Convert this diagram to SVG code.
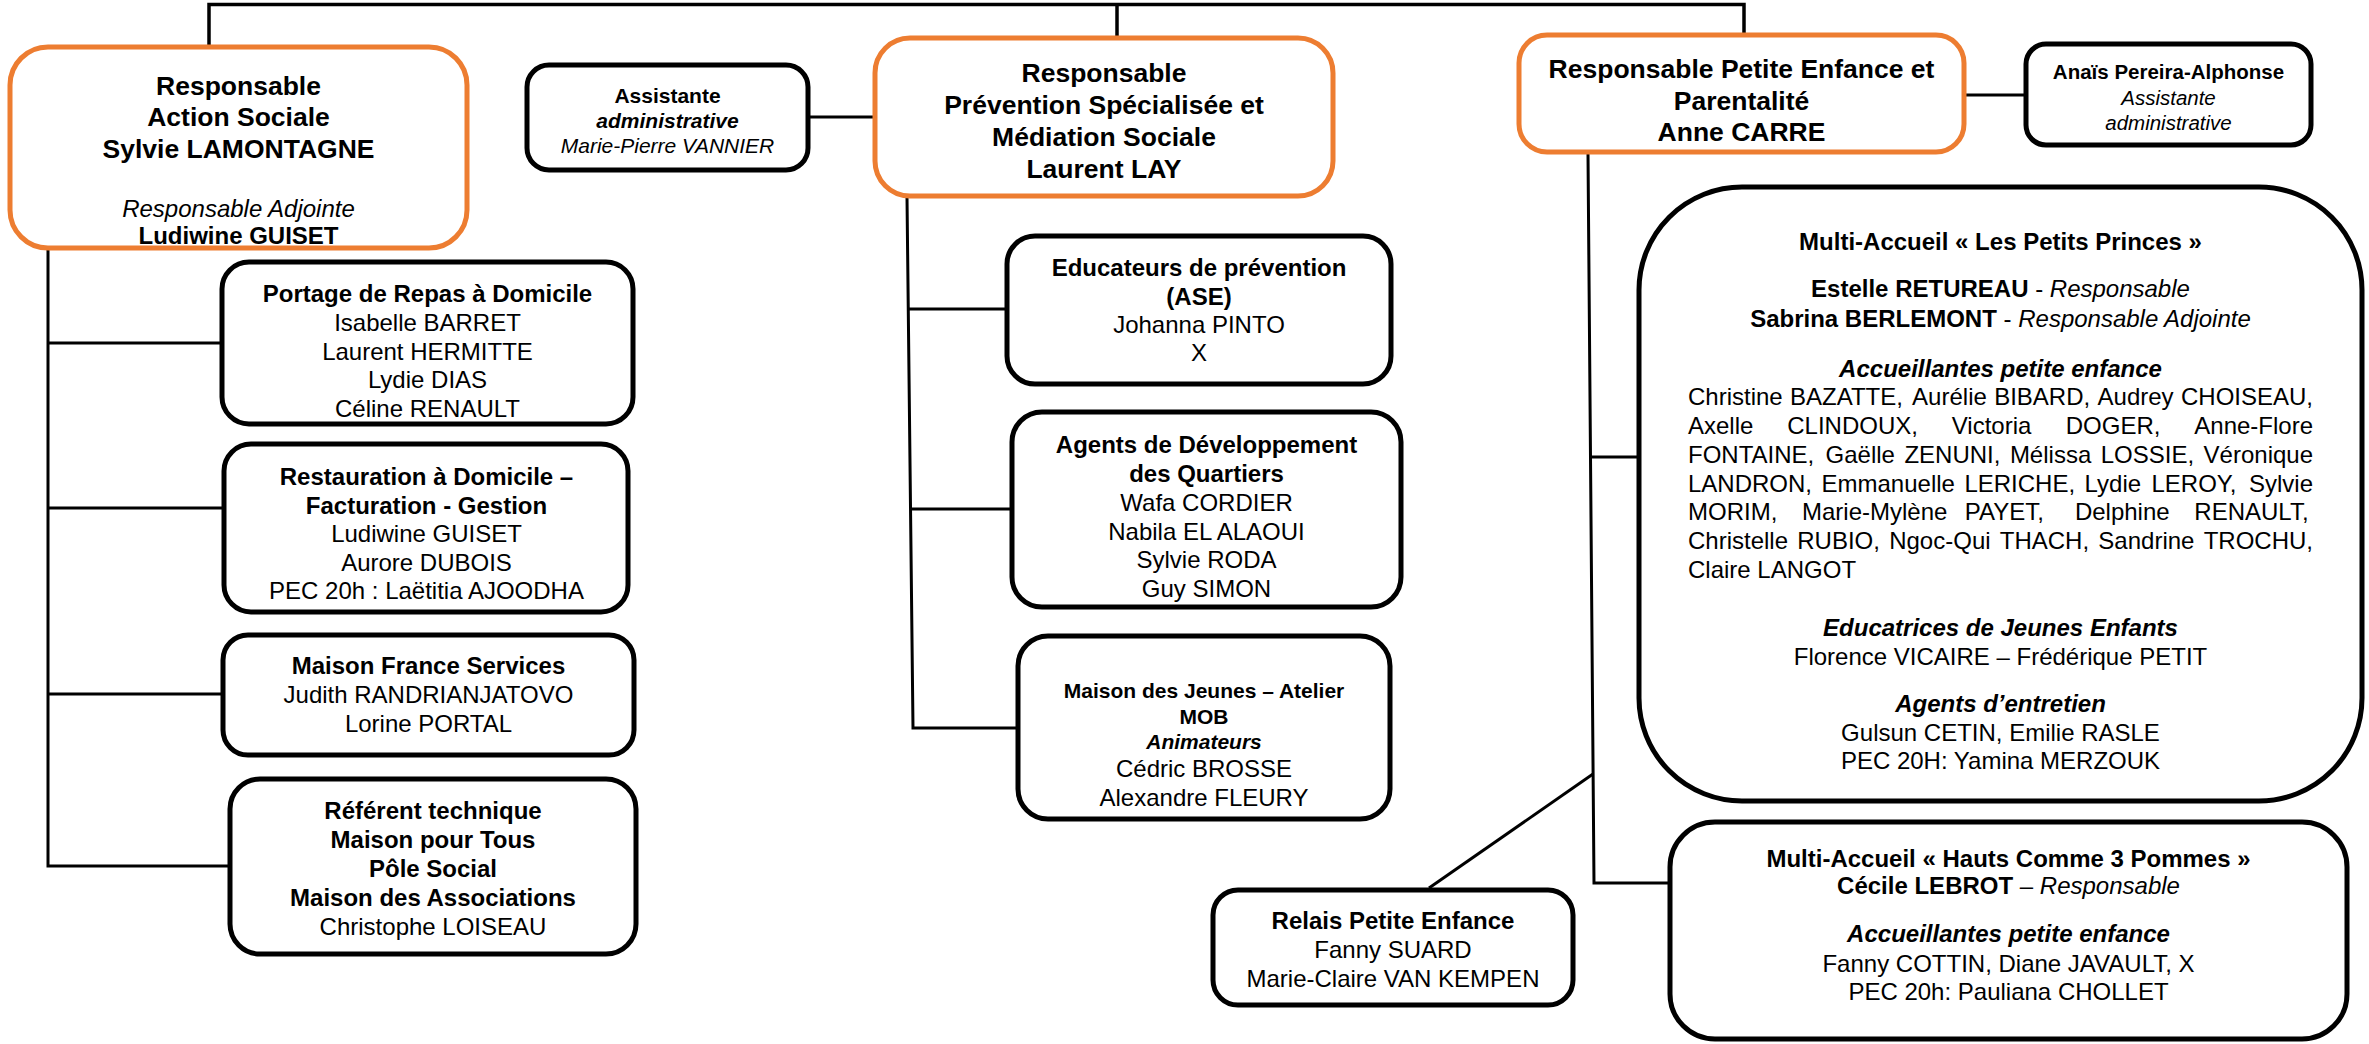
<svg xmlns="http://www.w3.org/2000/svg" width="2369" height="1044" viewBox="0 0 2369 1044">
<style>
text{font-family:"Liberation Sans",Arial,Helvetica,sans-serif;fill:#000;font-size:24px}
.c{text-anchor:middle}
.b{font-weight:bold}
.i{font-style:italic}
.h{font-size:26.5px;font-weight:bold}
.s21{font-size:21px}
.s20{font-size:20.5px}
.box{fill:#fff;stroke:#000;stroke-width:5}
.obox{fill:#fff;stroke:#ED7D31;stroke-width:5}
.ln{fill:none;stroke:#000;stroke-width:3}
</style>
<rect width="2369" height="1044" fill="#fff"/>
<g id="connectors">
<polyline class="ln" style="stroke-width:3.5" points="209,45 209,4.5 1744,4.5 1744,33"/>
<line class="ln" style="stroke-width:3.5" x1="1117" y1="4.5" x2="1117" y2="36"/>
<line class="ln" x1="810" y1="117" x2="873" y2="117"/>
<line class="ln" x1="1966" y1="95" x2="2024" y2="95"/>
<polyline class="ln" points="48,250 48,866 228,866"/>
<line class="ln" x1="48" y1="343" x2="220" y2="343"/>
<line class="ln" x1="48" y1="508" x2="222" y2="508"/>
<line class="ln" x1="48" y1="694" x2="221" y2="694"/>
<polyline class="ln" points="907,197 913,728 1016,728"/>
<line class="ln" x1="908.3" y1="309" x2="1005" y2="309"/>
<line class="ln" x1="910.5" y1="509" x2="1010" y2="509"/>
<polyline class="ln" points="1588,154 1594,883 1668,883"/>
<line class="ln" x1="1590.5" y1="457" x2="1637" y2="457"/>
<line class="ln" x1="1429" y1="888" x2="1593" y2="774"/>
</g>
<g id="action-sociale">
<rect class="obox" x="10" y="47" width="457" height="201" rx="38"/>
<text class="c h" x="238.5" y="94.5">Responsable</text>
<text class="c h" x="238.5" y="126">Action Sociale</text>
<text class="c h" x="238.5" y="157.5">Sylvie LAMONTAGNE</text>
<text class="c i" x="238.5" y="216.5">Responsable Adjointe</text>
<text class="c b" x="238.5" y="243.5">Ludiwine GUISET</text>
</g>
<g id="assistante-vannier">
<rect class="box" x="527" y="65" width="281" height="105" rx="22"/>
<text class="c b s21" x="667.5" y="102.5">Assistante</text>
<text class="c b i s21" x="667.5" y="127.5">administrative</text>
<text class="c i s21" x="667.5" y="153">Marie-Pierre VANNIER</text>
</g>
<g id="prevention">
<rect class="obox" x="875" y="38" width="458" height="158" rx="35"/>
<text class="c h" x="1104" y="82">Responsable</text>
<text class="c h" x="1104" y="114">Prévention Spécialisée et</text>
<text class="c h" x="1104" y="146">Médiation Sociale</text>
<text class="c h" x="1104" y="177.5">Laurent LAY</text>
</g>
<g id="petite-enfance">
<rect class="obox" x="1519" y="35" width="445" height="117" rx="28"/>
<text class="c h" x="1741.5" y="78">Responsable Petite Enfance et</text>
<text class="c h" x="1741.5" y="109.5">Parentalité</text>
<text class="c h" x="1741.5" y="141">Anne CARRE</text>
</g>
<g id="assistante-pereira">
<rect class="box" x="2026" y="44" width="285" height="101" rx="20"/>
<text class="c b s20" x="2168.5" y="79">Anaïs Pereira-Alphonse</text>
<text class="c i s20" x="2168.5" y="105">Assistante</text>
<text class="c i s20" x="2168.5" y="130">administrative</text>
</g>
<g id="portage">
<rect class="box" x="222" y="262" width="411" height="162" rx="27"/>
<text class="c b" x="427.5" y="302">Portage de Repas à Domicile</text>
<text class="c" x="427.5" y="331">Isabelle BARRET</text>
<text class="c" x="427.5" y="360">Laurent HERMITTE</text>
<text class="c" x="427.5" y="388">Lydie DIAS</text>
<text class="c" x="427.5" y="417">Céline RENAULT</text>
</g>
<g id="restauration">
<rect class="box" x="224" y="444" width="404" height="168" rx="27"/>
<text class="c b" x="426.5" y="484.5">Restauration à Domicile –</text>
<text class="c b" x="426.5" y="513.5">Facturation - Gestion</text>
<text class="c" x="426.5" y="542">Ludiwine GUISET</text>
<text class="c" x="426.5" y="571">Aurore DUBOIS</text>
<text class="c" x="426.5" y="599">PEC 20h : Laëtitia AJOODHA</text>
</g>
<g id="france-services">
<rect class="box" x="223" y="635" width="411" height="120" rx="25"/>
<text class="c b" x="428.5" y="673.5">Maison France Services</text>
<text class="c" x="428.5" y="703">Judith RANDRIANJATOVO</text>
<text class="c" x="428.5" y="731.5">Lorine PORTAL</text>
</g>
<g id="referent">
<rect class="box" x="230" y="779" width="406" height="175" rx="30"/>
<text class="c b" x="433" y="819">Référent technique</text>
<text class="c b" x="433" y="848">Maison pour Tous</text>
<text class="c b" x="433" y="877">Pôle Social</text>
<text class="c b" x="433" y="905.5">Maison des Associations</text>
<text class="c" x="433" y="934.5">Christophe LOISEAU</text>
</g>
<g id="educateurs">
<rect class="box" x="1007" y="236" width="384" height="148" rx="28"/>
<text class="c b" x="1199" y="276">Educateurs de prévention</text>
<text class="c b" x="1199" y="304.5">(ASE)</text>
<text class="c" x="1199" y="332.5">Johanna PINTO</text>
<text class="c" x="1199" y="361">X</text>
</g>
<g id="agents-quartiers">
<rect class="box" x="1012" y="412" width="389" height="195" rx="30"/>
<text class="c b" x="1206.5" y="453">Agents de Développement</text>
<text class="c b" x="1206.5" y="481.5">des Quartiers</text>
<text class="c" x="1206.5" y="510.5">Wafa CORDIER</text>
<text class="c" x="1206.5" y="539.5">Nabila EL ALAOUI</text>
<text class="c" x="1206.5" y="568">Sylvie RODA</text>
<text class="c" x="1206.5" y="597">Guy SIMON</text>
</g>
<g id="maison-jeunes">
<rect class="box" x="1018" y="636" width="372" height="183" rx="30"/>
<text class="c b s21" x="1204" y="697.5">Maison des Jeunes – Atelier</text>
<text class="c b s21" x="1204" y="723.5">MOB</text>
<text class="c b i s21" x="1204" y="749">Animateurs</text>
<text class="c" x="1204" y="777">Cédric BROSSE</text>
<text class="c" x="1204" y="805.5">Alexandre FLEURY</text>
</g>
<g id="petits-princes">
<rect class="box" x="1639" y="187" width="723" height="614" rx="103"/>
<text class="c b" x="2000.5" y="250">Multi-Accueil « Les Petits Princes »</text>
<text class="c" x="2000.5" y="297"><tspan class="b">Estelle RETUREAU</tspan> - <tspan class="i">Responsable</tspan></text>
<text class="c" x="2000.5" y="327"><tspan class="b">Sabrina BERLEMONT</tspan> - <tspan class="i">Responsable Adjointe</tspan></text>
<text class="c b i" x="2000.5" y="377">Accueillantes petite enfance</text>
<text y="405"><tspan x="1688">Christine</tspan><tspan x="1790.05">BAZATTE,</tspan><tspan x="1912.12">Aurélie</tspan><tspan x="1994.18">BIBARD,</tspan><tspan x="2097.57">Audrey</tspan><tspan x="2180.97">CHOISEAU,</tspan></text>
<text y="434"><tspan x="1688">Axelle</tspan><tspan x="1787.24">CLINDOUX,</tspan><tspan x="1951.81">Victoria</tspan><tspan x="2065.72">DOGER,</tspan><tspan x="2194.29">Anne-Flore</tspan></text>
<text y="463"><tspan x="1688">FONTAINE,</tspan><tspan x="1825.52">Gaëlle</tspan><tspan x="1904.38">ZENUNI,</tspan><tspan x="2009.88">Mélissa</tspan><tspan x="2100.72">LOSSIE,</tspan><tspan x="2203.6">Véronique</tspan></text>
<text y="491.5"><tspan x="1688">LANDRON,</tspan><tspan x="1821.52">Emmanuelle</tspan><tspan x="1964.4">LERICHE,</tspan><tspan x="2084.6">Lydie</tspan><tspan x="2151.47">LEROY,</tspan><tspan x="2249.01">Sylvie</tspan></text>
<text y="520"><tspan x="1688">MORIM,</tspan><tspan x="1802.02">Marie-Mylène</tspan><tspan x="1964.85">PAYET,</tspan><tspan x="2074.91">Delphine</tspan><tspan x="2194.3">RENAULT,</tspan></text>
<text y="549"><tspan x="1688">Christelle</tspan><tspan x="1797.26">RUBIO,</tspan><tspan x="1889.19">Ngoc-Qui</tspan><tspan x="1999.79">THACH,</tspan><tspan x="2098.37">Sandrine</tspan><tspan x="2203.67">TROCHU,</tspan></text>
<text x="1688" y="578">Claire LANGOT</text>
<text class="c b i" x="2000.5" y="635.5">Educatrices de Jeunes Enfants</text>
<text class="c" x="2000.5" y="665">Florence VICAIRE – Frédérique PETIT</text>
<text class="c b i" x="2000.5" y="712">Agents d’entretien</text>
<text class="c" x="2000.5" y="741">Gulsun CETIN, Emilie RASLE</text>
<text class="c" x="2000.5" y="769">PEC 20H: Yamina MERZOUK</text>
</g>
<g id="hauts-comme-3-pommes">
<rect class="box" x="1670" y="822" width="677" height="217" rx="45"/>
<text class="c b" x="2008.5" y="867">Multi-Accueil « Hauts Comme 3 Pommes »</text>
<text class="c" x="2008.5" y="894"><tspan class="b">Cécile LEBROT</tspan> – <tspan class="i">Responsable</tspan></text>
<text class="c b i" x="2008.5" y="942">Accueillantes petite enfance</text>
<text class="c" x="2008.5" y="971.5">Fanny COTTIN, Diane JAVAULT, X</text>
<text class="c" x="2008.5" y="1000">PEC 20h: Pauliana CHOLLET</text>
</g>
<g id="relais">
<rect class="box" x="1213" y="890" width="360" height="115" rx="25"/>
<text class="c b" x="1393" y="928.5">Relais Petite Enfance</text>
<text class="c" x="1393" y="957.5">Fanny SUARD</text>
<text class="c" x="1393" y="986.5">Marie-Claire VAN KEMPEN</text>
</g>
</svg>
